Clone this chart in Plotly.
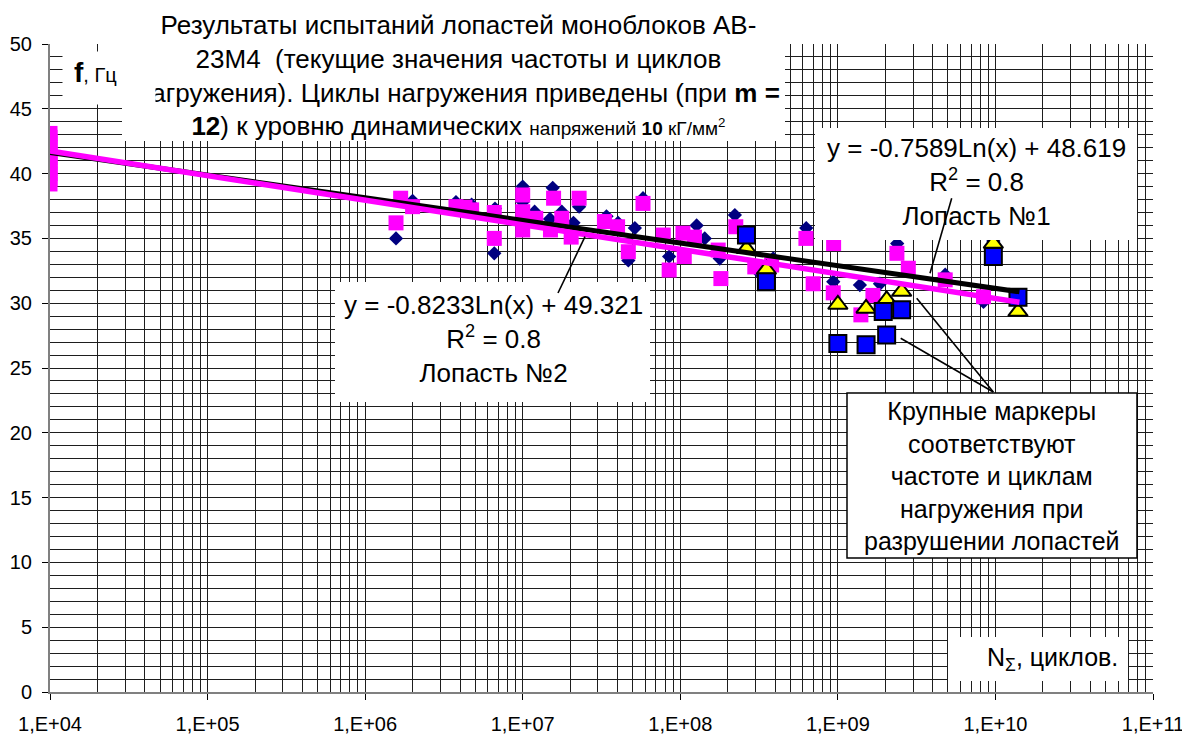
import numpy as np
import plotly.graph_objects as go

# ---------------- data ----------------
blade1_N = [1e4, 1e4, 1e4, 1e4,
            1.57e6, 2.0e6, 3.77e6, 4.74e6, 6.6e6, 6.67e6,
            1.0e7, 1.0e7, 1.19e7, 1.49e7, 1.55e7, 1.77e7, 2.1e7, 2.28e7,
            3.4e7, 4.03e7, 4.68e7, 5.15e7, 5.8e7, 8.5e7,
            1.27e8, 1.43e8, 1.78e8, 2.22e8, 3.05e8, 3.89e8, 6.3e8, 9.35e8,
            1.38e9, 1.85e9, 2.38e9, 4.8e9, 8.4e9, 9.7e9, 1.42e10]
blade1_f = [39.5, 40.5, 41.5, 42.5,
            35.0, 37.9, 37.8, 37.6, 33.85, 37.3,
            39.0, 37.8, 37.06, 36.5, 38.9, 37.06, 36.2, 37.45,
            36.7, 36.2, 33.3, 35.8, 38.1, 33.6,
            36.0, 35.0, 33.45, 36.8, 32.56, 33.45, 35.8, 31.66,
            31.4, 31.5, 34.6, 32.2, 30.1, 34.8, 30.6]

blade2_N = [1e4] * 11 + [
            1.57e6, 1.68e6, 2.0e6, 3.77e6, 4.3e6, 4.74e6, 6.6e6, 6.6e6,
            1.0e7, 1.0e7, 1.0e7, 1.21e7, 1.5e7, 1.57e7, 1.77e7, 2.03e7, 2.28e7,
            3.3e7, 4.0e7, 4.68e7, 5.8e7, 7.8e7, 8.5e7,
            1.04e8, 1.06e8, 1.23e8, 1.74e8, 1.81e8, 2.25e8, 2.97e8, 3.8e8,
            6.27e8, 6.97e8, 9.35e8, 9.4e8,
            1.4e9, 1.67e9, 2.37e9, 2.8e9, 4.8e9, 8.4e9, 1.42e10]
blade2_f = [39.2, 39.6, 40.0, 40.4, 40.8, 41.2, 41.6, 42.0, 42.4, 42.8, 43.1] + [
            36.2, 38.1, 37.45, 37.45, 37.4, 37.2, 37.0, 35.0,
            38.35, 37.06, 35.65, 36.55, 35.65, 38.1, 36.55, 35.1, 38.1,
            36.3, 35.9, 33.97, 37.7, 35.26, 32.56,
            35.4, 33.6, 35.1, 34.1, 31.9, 35.9, 32.8, 32.95,
            35.0, 31.5, 30.8, 34.6,
            29.1, 30.6, 33.85, 32.7, 31.8, 30.5, 30.4]

fail_sq_N = [2.63e8, 3.52e8, 1.0e9, 1.51e9, 1.94e9, 2.04e9, 2.54e9, 9.7e9, 1.39e10]
fail_sq_f = [35.26, 31.66, 26.9, 26.8, 29.35, 27.55, 29.5, 33.6, 30.45]

fail_tri_N = [2.63e8, 3.52e8, 1.0e9, 1.51e9, 2.04e9, 2.54e9, 9.7e9, 1.39e10]
fail_tri_f = [34.2, 32.6, 29.9, 29.6, 30.25, 30.9, 34.6, 29.35]

trend1_coef = (-0.7589, 48.619)   # y = a*ln(x) + b, blade 1
trend2_coef = (-0.8233, 49.321)   # blade 2

x_tick_vals = [1e4, 1e5, 1e6, 1e7, 1e8, 1e9, 1e10, 1e11]
x_tick_text = ["1,E+04", "1,E+05", "1,E+06", "1,E+07", "1,E+08", "1,E+09", "1,E+10", "1,E+11"]
y_tick_vals = [0, 5, 10, 15, 20, 25, 30, 35, 40, 45, 50]

# ---------------- layout geometry ----------------
# the page body has an 8px margin, so the figure starts at (8, 8) on screen
OFF = 8
W, H = 1190, 734
X0, X1, Y0, Y1 = 50, 1153, 44, 692          # plot area on screen
L, T = X0 - OFF, Y0 - OFF
R, B = W - (X1 - OFF), H - (Y1 - OFF)
PW, PH = X1 - X0, Y1 - Y0


def px(xs):
    return (xs - X0) / PW


def py(ys):
    return (Y1 - ys) / PH


FONT = "Liberation Sans, Arial, sans-serif"
GRID = "#1e1e1e"


def trend(N, coef):
    xs = np.array([min(N), max(N)])
    return xs, coef[0] * np.log(xs) + coef[1]


fig = go.Figure()
fig.add_trace(go.Scatter(x=blade1_N, y=blade1_f, mode="markers",
                         marker=dict(symbol="diamond", size=11, color="#000080"),
                         showlegend=False))
fig.add_trace(go.Scatter(x=blade2_N, y=blade2_f, mode="markers",
                         marker=dict(symbol="square", size=15, color="#FF00FF"),
                         showlegend=False))
fig.add_trace(go.Scatter(x=fail_tri_N, y=fail_tri_f, mode="markers",
                         marker=dict(symbol="triangle-up", size=17, color="#FFFF00",
                                     line=dict(color="black", width=2)),
                         showlegend=False))
fig.add_trace(go.Scatter(x=fail_sq_N, y=fail_sq_f, mode="markers",
                         marker=dict(symbol="square", size=17, color="#0000FF",
                                     line=dict(color="black", width=2)),
                         showlegend=False))
tx1, ty1 = trend(blade1_N, trend1_coef)
tx2, ty2 = trend(blade2_N, trend2_coef)
fig.add_trace(go.Scatter(x=tx1, y=ty1, mode="lines",
                         line=dict(color="black", width=5), showlegend=False))
fig.add_trace(go.Scatter(x=tx2, y=ty2, mode="lines",
                         line=dict(color="#FF00FF", width=5.5), showlegend=False))


# white boxes (cover grid) and leader lines
def box(x0, y0, x1, y1, border=False):
    return dict(type="rect", xref="paper", yref="paper", layer="above",
                x0=px(x0), x1=px(x1), y0=py(y1), y1=py(y0),
                fillcolor="white",
                line=dict(color="black" if border else "rgba(0,0,0,0)",
                          width=1.5 if border else 0))


def seg(x0, y0, x1, y1):
    return dict(type="line", xref="paper", yref="paper", layer="above",
                x0=px(x0), y0=py(y0), x1=px(x1), y1=py(y1),
                line=dict(color="black", width=1.6))


shapes = [
    box(122, 0, 785, 141),
    box(815, 128, 1137, 240),
    box(335, 282, 650, 402),
    box(847, 393, 1137, 558, border=True),
    box(948, 637, 1128, 681),
    seg(585, 236.7, 558, 293),
    seg(930, 273.3, 951.7, 198.3),
    seg(916.7, 298.3, 993.3, 392),
    seg(900.7, 338.3, 993.3, 392),
]

title_txt = ("Результаты испытаний лопастей моноблоков АВ-<br>"
             "23М4  (текущие значения частоты и циклов<br>"
             "нагружения). Циклы нагружения приведены (при <b>m =</b><br>"
             "<b>12</b>) к уровню динамических "
             "<span style='font-size:19px'>напряжений <b>10</b> кГ/мм<sup>2</sup></span>")


def ann(text, xc, yc, size, xanchor="center", align="center", **kw):
    d = dict(text=text, xref="paper", yref="paper", x=px(xc), y=py(yc),
             xanchor=xanchor, yanchor="middle", showarrow=False, align=align,
             font=dict(family=FONT, size=size, color="black"))
    d.update(kw)
    return d


annotations = [
    ann(title_txt, 458, 75, 26),
    # white patch behind the "f, Гц" label (covers start of title line 3)
    dict(text=" ", xref="paper", yref="paper", x=px(109), y=py(78),
         xanchor="center", yanchor="middle", showarrow=False,
         width=92, height=52, bgcolor="white", borderpad=0,
         font=dict(family=FONT, size=10)),
    ann("<b>f</b><span style='font-size:20px'>, Гц</span>", 95, 73, 28),
    ann("y = -0.7589Ln(x) + 48.619<br>R<sup>2</sup> = 0.8<br>Лопасть №1", 977, 182, 26),
    ann("y = -0.8233Ln(x) + 49.321<br>R<sup>2</sup> = 0.8<br>Лопасть №2", 493, 339, 26),
    ann("Крупные маркеры<br>соответствуют<br>частоте и циклам<br>нагружения при<br>разрушении лопастей",
        992, 476, 25),
    ann("N<sub>Σ</sub>, циклов.", 1120, 659, 25, xanchor="right"),
]

fig.update_layout(
    template="none",
    width=W, height=H,
    margin=dict(l=L, r=R, t=T, b=B, pad=0, autoexpand=False),
    paper_bgcolor="white", plot_bgcolor="white",
    font=dict(family=FONT, size=20, color="black"),
    shapes=shapes, annotations=annotations,
    showlegend=False,
)
fig.update_xaxes(type="log", range=[4, 11], tickmode="array",
                 tickvals=x_tick_vals, ticktext=x_tick_text,
                 ticks="outside", ticklen=6, tickcolor="black", tickwidth=1,
                 ticklabelstandoff=7, automargin=False,
                 tickfont=dict(family=FONT, size=20, color="black"),
                 showgrid=True, gridcolor=GRID, gridwidth=1,
                 minor=dict(tickmode="linear", dtick="D1", showgrid=True,
                            gridcolor=GRID, gridwidth=1, ticks=""),
                 showline=True, linecolor="#808080", linewidth=2,
                 zeroline=False)
fig.update_yaxes(range=[0, 50], tickmode="array", tickvals=y_tick_vals,
                 ticks="outside", ticklen=6, tickcolor="black", tickwidth=1,
                 ticklabelstandoff=6, automargin=False,
                 tickfont=dict(family=FONT, size=20, color="black"),
                 showgrid=True, gridcolor=GRID, gridwidth=1,
                 minor=dict(tickmode="linear", tick0=0, dtick=1, showgrid=True,
                            gridcolor=GRID, gridwidth=1, ticks=""),
                 showline=True, linecolor="#808080", linewidth=2,
                 zeroline=False)

fig.write_html("out.html")
